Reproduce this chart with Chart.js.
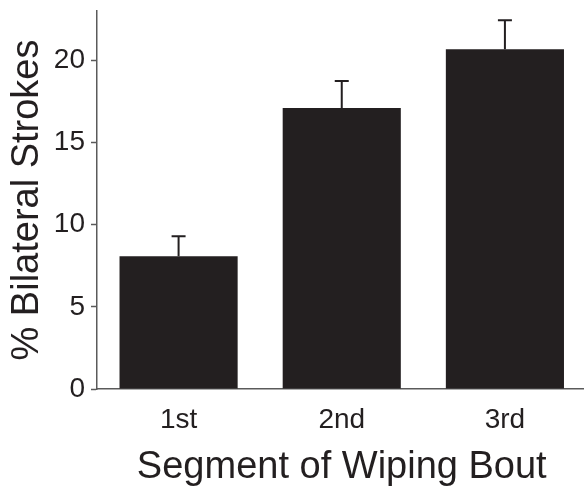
<!DOCTYPE html>
<html>
<head>
<meta charset="utf-8">
<script src="https://cdn.jsdelivr.net/npm/chart.js@4"></script>
<style>
    html, body { margin: 0; padding: 0; background: #fff; overflow: hidden; }
    canvas { display: block; }
</style>
</head>
<body>
<canvas id="chart" width="588" height="490"></canvas>
<script>
// Chart data
const segments = ['1st', '2nd', '3rd'];
const bilateralPct = [8.08, 17.1, 20.67];
const bilateralErr = [1.22, 1.64, 1.76];
const yTickValues = [0, 5, 10, 15, 20];

const INK = '#231f20';
const AXIS = '#5a5a5a';
const FONT = "'Liberation Sans', Arial, sans-serif";

// Upper-only error bars, drawn through the y scale
const errorBars = {
    id: 'errorBars',
    afterDatasetsDraw(chart) {
        const ctx = chart.ctx;
        const yScale = chart.scales.y;
        const meta = chart.getDatasetMeta(0);
        ctx.save();
        ctx.strokeStyle = INK;
        ctx.lineWidth = 2;
        meta.data.forEach((bar, i) => {
            const yBase = yScale.getPixelForValue(bilateralPct[i]);
            const yTop = yScale.getPixelForValue(bilateralPct[i] + bilateralErr[i]);
            ctx.beginPath();
            ctx.moveTo(bar.x, yBase);
            ctx.lineTo(bar.x, yTop);
            ctx.moveTo(bar.x - 7, yTop);
            ctx.lineTo(bar.x + 7, yTop);
            ctx.stroke();
        });
        ctx.restore();
    }
};

new Chart(document.getElementById('chart'), {
    type: 'bar',
    data: {
        labels: segments,
        datasets: [{
            data: bilateralPct,
            backgroundColor: INK,
            borderWidth: 0,
            categoryPercentage: 1,
            barPercentage: 0.724
        }]
    },
    options: {
        responsive: false,
        animation: false,
        layout: {
            padding: { top: 11, right: 1.5, bottom: 0, left: 0 }
        },
        plugins: {
            legend: { display: false },
            tooltip: { enabled: false }
        },
        scales: {
            x: {
                grid: { display: false, drawTicks: false },
                border: { display: true, color: AXIS, width: 1.5 },
                ticks: {
                    color: INK,
                    padding: 14,
                    font: { family: FONT, size: 28 }
                },
                title: {
                    display: true,
                    text: 'Segment of Wiping Bout',
                    color: INK,
                    padding: { top: 0, bottom: 3 },
                    font: { family: FONT, size: 38, lineHeight: 1 }
                },
                afterFit: (scale) => { scale.height = 101; }
            },
            y: {
                min: 0,
                max: 23,
                grid: {
                    display: true,
                    drawOnChartArea: false,
                    drawTicks: true,
                    tickLength: 6,
                    tickColor: AXIS,
                    tickWidth: 1.5
                },
                border: { display: true, color: AXIS, width: 1.5 },
                ticks: {
                    color: INK,
                    padding: 6,
                    font: { family: FONT, size: 28 }
                },
                afterBuildTicks: (scale) => {
                    scale.ticks = yTickValues.map(v => ({ value: v }));
                },
                title: {
                    display: true,
                    text: '% Bilateral Strokes',
                    color: INK,
                    padding: { top: 8.5, bottom: 0 },
                    font: { family: FONT, size: 38, lineHeight: 1 }
                },
                afterFit: (scale) => {
                    scale.width = 97;
                    scale.paddingTop = 0;
                    scale.paddingBottom = 0;
                }
            }
        }
    },
    plugins: [errorBars]
});
</script>
</body>
</html>
